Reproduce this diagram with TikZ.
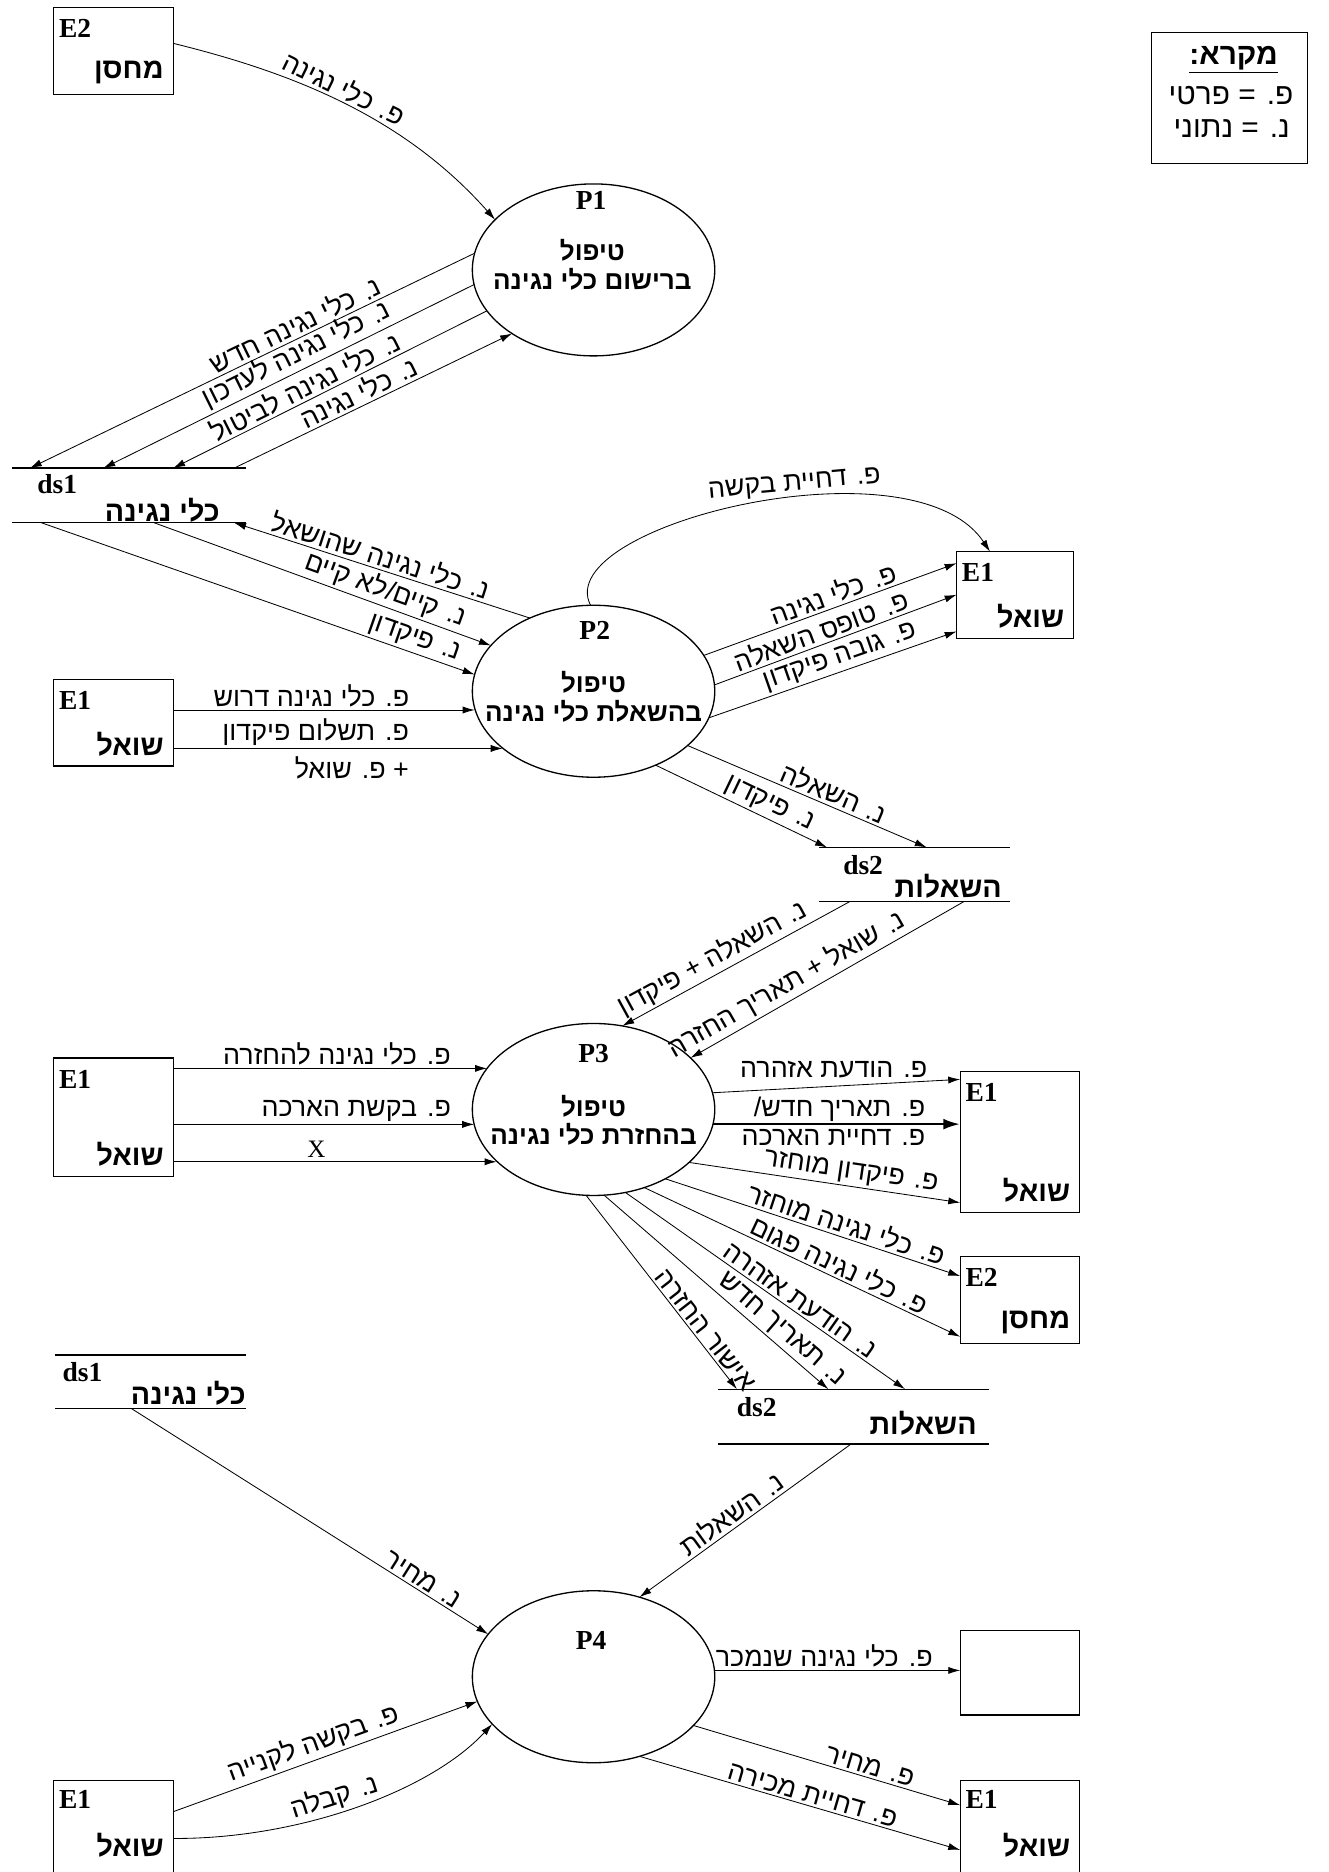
\documentclass[tikz,border=0pt]{standalone}
\usepackage{fontspec}
\setmainfont{Liberation Serif}
\newfontfamily\hebfam[Script=Hebrew]{Liberation Sans}
\usetikzlibrary{arrows.meta,calc,shapes.geometric,fit}
\TeXXeTstate=1
\newcommand\HT[1]{{\hebfam\beginR #1\endR}}
\begin{document}
\begin{tikzpicture}[x=1pt,y=-1pt,
  every node/.style={inner sep=0pt,outer sep=0pt},
  proc/.style={ellipse,draw,line width=1.1pt,minimum width=203pt,minimum height=144pt},
  ent/.style={rectangle,draw,line width=1.1pt,inner sep=0pt},
  store/.style={rectangle,inner sep=0pt},
  dsline/.style={line width=1.1pt},
  arr/.style={line width=0.7pt,-{Latex[length=10pt,width=6pt]}},
  arrthick/.style={line width=2.2pt,-{Latex[length=14pt,width=9pt]}},
  lbl/.style={font=\fontsize{22.5}{25}\selectfont,inner sep=2.5pt},
  bhe/.style={font=\bfseries\fontsize{24}{24}\selectfont},
  ptxt/.style={font=\bfseries\fontsize{21.8}{24}\selectfont,align=center},
  blat/.style={font=\bfseries\fontsize{23}{23}\selectfont},
  legf/.style={font=\fontsize{25}{25}\selectfont},
  ]
\useasboundingbox (0,0) rectangle (1112,1567.5);

% ---------- legend
\node[ent,fit={(964,27) (1095,137)}] (leg) {};
\node[legf,anchor=east,font=\bfseries\fontsize{25}{25}\selectfont] (legh) at (1070,50) {\underline{\HT{מקרא:}}};
\node[legf,anchor=east] (leg1) at (1083,80) {\HT{פ. = פרטי}};
\node[legf,anchor=east] (leg2) at (1080,108) {\HT{נ. = נתוני}};

% ---------- processes
\node[proc] (P1) at (497,226) {};
\node[proc] (P2) at (497,578.8) {};
\node[proc] (P3) at (497,929) {};
\node[proc] (P4) at (497,1404) {};
\node[blat] (P1id) at (495,168) {P1};
\node[blat] (P2id) at (498,528) {P2};
\node[blat] (P3id) at (497,882) {P3};
\node[blat] (P4id) at (495,1373.5) {P4};
\node[ptxt] (P1t) at (496,221.5) {\HT{טיפול}\\\HT{ברישום כלי נגינה}};
\node[ptxt] (P2t) at (497,583.5) {\HT{טיפול}\\\HT{בהשאלת כלי נגינה}};
\node[ptxt] (P3t) at (497,938) {\HT{טיפול}\\\HT{בהחזרת כלי נגינה}};

% ---------- external entities
\node[ent,fit={(45,6) (145,79)}] (E2a) {};
\node[ent,fit={(45,569) (145,641.5)}] (E1c) {};
\node[ent,fit={(801,462) (899,534.5)}] (E1b) {};
\node[ent,fit={(45,886) (145,985)}] (E1d) {};
\node[ent,fit={(804,897) (904,1015)}] (E1e) {};
\node[ent,fit={(804,1052) (904,1125)}] (E2c) {};
\node[ent,fit={(804,1365) (904,1436)}] (Ebox) {};
\node[ent,fit={(45,1491) (145,1580)}] (E1f) {};
\node[ent,fit={(804,1491) (904,1580)}] (E1g) {};

\foreach \b/\id/\nm in {E2a/E2/מחסן, E1c/E1/שואל, E1b/E1/שואל, E1d/E1/שואל, E1e/E1/שואל, E2c/E2/מחסן}{
  \node[blat,anchor=north west] (\b id) at ($(\b.north west)+(4.5,10)$) {\id};
  \node[bhe,anchor=south east] (\b nm) at ($(\b.south east)+(-8,-8.5)$) {\HT{\nm}};
}
\node[blat,anchor=north west] (E1fid) at ($(E1f.north west)+(4.5,8.5)$) {E1};
\node[bhe,anchor=south east] (E1fnm) at (137,1555) {\HT{שואל}};
\node[blat,anchor=north west] (E1gid) at ($(E1g.north west)+(4.5,8.5)$) {E1};
\node[bhe,anchor=south east] (E1gnm) at (896,1555) {\HT{שואל}};

% ---------- data stores
\node[store,fit={(10,392) (206,437.7)}] (ds1a) {};
\node[store,fit={(686,709.6) (845.8,755)}] (ds2a) {};
\node[store,fit={(601.5,1163.2) (827.7,1209)}] (ds2b) {};
\node[store,fit={(46,1134.6) (206,1179.4)}] (ds1b) {};
\foreach \s in {ds1a,ds2a,ds2b,ds1b}{
  \draw[dsline] (\s.north west) -- (\s.north east);
  \draw[dsline] (\s.south west) -- (\s.south east);
}
\node[blat] (ds1aid) at (48,405) {ds1};
\node[bhe,anchor=east] (ds1anm) at (184,427) {\HT{כלי נגינה}};
\node[blat] (ds2aid) at (722.7,724.4) {ds2};
\node[bhe,anchor=east] (ds2anm) at (838.8,742.5) {\HT{השאלות}};
\node[blat] (ds2bid) at (633.6,1178) {ds2};
\node[bhe,anchor=east] (ds2bnm) at (817.8,1191.5) {\HT{השאלות}};
\node[blat] (ds1bid) at (69,1148.5) {ds1};
\node[bhe,anchor=east] (ds1bnm) at (205.7,1167) {\HT{כלי נגינה}};

% ---------- P1 flows
\draw[arr] ($(E2a.north east)+(0,30.3)$) .. controls (250,62) and (340,100) .. (P1.153.8)
  node[lbl,pos=0.47,above,sloped] {\HT{פ. כלי נגינה}};
\draw[arr] (P1.172.9) -- ($(ds1a.north west)+(15,0)$) node[lbl,pos=0.39,above,sloped] {\HT{נ. כלי נגינה חדש}};
\draw[arr] (P1.187.5) -- ($(ds1a.north west)+(76.5,0)$) node[lbl,pos=0.46,above,sloped] {\HT{נ. כלי נגינה לעדכון}};
\draw[arr] (P1.201.7) -- ($(ds1a.north west)+(135,0)$) node[lbl,pos=0.56,above,sloped] {\HT{נ. כלי נגינה לביטול}};
\draw[arr] ($(ds1a.north west)+(186,0)$) -- (P1.218.2) node[lbl,pos=0.47,above,sloped] {\HT{נ. כלי נגינה}};

% ---------- P2 flows
\draw[arr] (P2.131.3) -- ($(ds1a.south west)+(186,0)$) node[lbl,pos=0.52,above,sloped] {\HT{נ. כלי נגינה שהושאל}};
\draw[arr] ($(ds1a.south west)+(119,0)$) -- (P2.156.8) node[lbl,pos=0.67,above,sloped] {\HT{נ. קיים/לא קיים}};
\draw[arr] ($(ds1a.south west)+(24.6,0)$) -- (P2.172.4) node[lbl,pos=0.85,above,sloped] {\HT{נ. פיקדון}};

\coordinate (c1) at ($(E1c.north east)+(0,25.5)$);
\coordinate (c2) at ($(E1c.north east)+(0,57.7)$);
\draw[arr] (c1) -- (P2.188.9 |- c1) node[lbl,pos=0.793,anchor=south east] {\HT{פ. כלי נגינה דרוש}};
\draw[arr] (c2) -- (P2.212.9 |- c2) node[lbl,pos=0.7246,anchor=south east] {\HT{פ. תשלום פיקדון}}
  node[lbl,pos=0.7246,anchor=north east,yshift=-4pt] {\HT{+ פ. שואל}};

\draw[arr] (P2.18.96) -- ($(E1b.north west)+(0,9.6)$) node[lbl,pos=0.53,above,sloped] {\HT{פ. כלי נגינה}};
\draw[arr] (P2.3.9) -- ($(E1b.north west)+(0,36)$) node[lbl,pos=0.46,above,sloped] {\HT{פ. טופס השאלה}};
\draw[arr] (P2.-13.3) -- ($(E1b.north west)+(0,66.7)$) node[lbl,pos=0.55,above,sloped] {\HT{פ. גובה פיקדון}};
\draw[arr] (P2.92) .. controls (460,440) and (765,365) .. ($(E1b.north west)+(28,0)$)
  node[lbl,pos=0.585,above,sloped] {\HT{פ. דחיית בקשה}};

\draw[arr] (P2.-30.8) -- ($(ds2a.north west)+(90,0)$) node[lbl,pos=0.59,above,sloped] {\HT{נ. השאלה}};
\draw[arr] (P2.-50.9) -- ($(ds2a.north west)+(6.5,0)$) node[lbl,pos=0.63,above,sloped] {\HT{נ. פיקדון}};

% ---------- P3 flows
\draw[arr] ($(ds2a.south west)+(25.4,0)$) -- (P3.71.9) node[lbl,pos=0.57,above,sloped] {\HT{נ. השאלה + פיקדון}};
\draw[arr] ($(ds2a.south west)+(121,0)$) -- (P3.28.9) node[lbl,pos=0.62,above,sloped] {\HT{נ. שואל + תאריך החזרה}};

\coordinate (d1) at ($(E1d.north east)+(0,8.6)$);
\coordinate (d2) at ($(E1d.north east)+(0,55.5)$);
\coordinate (d3) at ($(E1d.north east)+(0,86.8)$);
\draw[arr] (d1) -- (P3.159 |- d1) node[lbl,pos=0.894,anchor=south east] {\HT{פ. כלי נגינה להחזרה}};
\draw[arr] (d2) -- (P3.187.1 |- d2) node[lbl,pos=0.933,anchor=south east] {\HT{פ. בקשת הארכה}};
\draw[arr] (d3) -- (P3.208.4 |- d3) node[pos=0.443,anchor=south,inner sep=4pt,font=\fontsize{21}{21}\selectfont] {X};

\draw[arr] (P3.8.7) -- ($(E1e.north west)+(0,6.8)$) node[lbl,pos=0.879,anchor=south east] {\HT{פ. הודעת אזהרה}};
\coordinate (t1) at (P3.-7.1);
\draw[arrthick] (t1) -- (t1 -| E1e.west) node[lbl,pos=0.871,anchor=south east] {\HT{פ. תאריך חדש/}}
  node[lbl,pos=0.871,anchor=north east,yshift=-2pt] {\HT{פ. דחיית הארכה}};
\draw[arr] (P3.-29.2) -- ($(E1e.north west)+(0,110)$) node[lbl,pos=0.59,above,sloped] {\HT{פ. פיקדון מוחזר}};
\draw[arr] (P3.-44.2) -- ($(E2c.north west)+(0,16.5)$) node[lbl,pos=0.6,above,sloped] {\HT{פ. כלי נגינה מוחזר}};
\draw[arr] (P3.-57.2) -- ($(E2c.north west)+(0,67.3)$) node[lbl,pos=0.6,above,sloped] {\HT{פ. כלי נגינה פגום}};
\draw[arr] (P3.-69.4) -- ($(ds2b.north west)+(156.3,0)$) node[lbl,pos=0.6,above,sloped] {\HT{נ. הודעת אזהרה}};
\draw[arr] (P3.-83.6) -- ($(ds2b.north west)+(92.1,0)$) node[lbl,pos=0.75,above,sloped] {\HT{נ. תאריך חדש}};
\draw[arr] (P3.-95.6) -- ($(ds2b.north west)+(15.5,0)$) node[lbl,pos=0.73,above,sloped] {\HT{אישור החזרה}};

% ---------- P4 flows
\draw[arr] ($(ds1b.south west)+(64,0)$) -- (P4.158.6) node[lbl,pos=0.8,above,sloped] {\HT{נ. מחיר}};
\draw[arr] ($(ds2b.south west)+(111.3,0)$) -- (P4.60.1) node[lbl,pos=0.53,above,sloped] {\HT{נ. השאלות}};
\coordinate (q1) at (P4.3.6);
\draw[arr] (q1) -- (q1 -| Ebox.west) node[lbl,pos=0.9,anchor=south east] {\HT{פ. כלי נגינה שנמכר}};
\draw[arr] (P4.-26.4) -- ($(E1g.north west)+(0,20.5)$) node[lbl,pos=0.65,above,sloped] {\HT{פ. מחיר}};
\draw[arr] (P4.-60.1) -- ($(E1g.north west)+(0,58)$) node[lbl,pos=0.53,above,sloped] {\HT{פ. דחיית מכירה}};
\draw[arr] ($(E1f.north east)+(0,26)$) -- (P4.192.6) node[lbl,pos=0.48,above,sloped] {\HT{פ. בקשה לקנייה}};
\draw[arr] ($(E1f.north east)+(0,48.4)$) .. controls (250,1540) and (360,1500) .. (P4.205.4)
  node[lbl,pos=0.45,above,sloped] {\HT{נ. קבלה}};
\end{tikzpicture}
\end{document}
